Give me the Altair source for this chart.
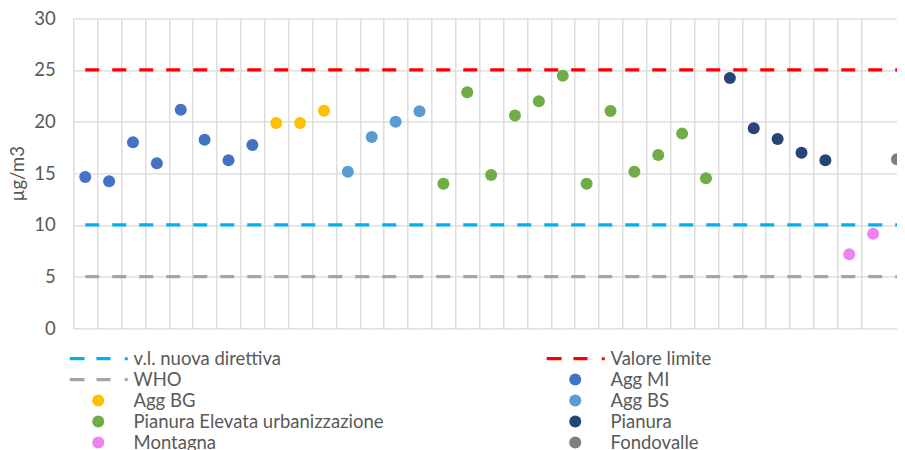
import altair as alt
import pandas as pd

# ---------------- data ----------------
categories = list(range(1, 36))
values = [14.64, 14.22, 18.0, 15.97, 21.16, 18.25, 16.26, 17.74,
          19.87, 19.87, 21.06,
          15.16, 18.51, 20.0, 21.0,
          14.0, 22.84, 14.84, 20.6, 21.97, 24.45, 14.0, 21.03, 15.16, 16.77, 18.84, 14.52,
          24.22, 19.35, 18.32, 17.0, 16.26,
          7.16, 9.16,
          16.35]
groups = (["Agg MI"] * 8 + ["Agg BG"] * 3 + ["Agg BS"] * 4
          + ["Pianura Elevata urbanizzazione"] * 12 + ["Pianura"] * 5
          + ["Montagna"] * 2 + ["Fondovalle"] * 1)

limit_names = ["v.l. nuova direttiva", "Valore limite", "WHO"]
limit_values = [10, 25, 5]

# legend entries, column by column (left column first)
legend_order = ["v.l. nuova direttiva", "WHO", "Agg BG", "Pianura Elevata urbanizzazione", "Montagna",
                "Valore limite", "Agg MI", "Agg BS", "Pianura", "Fondovalle"]
y_ticks = [0, 5, 10, 15, 20, 25, 30]

# ---------------- styles ----------------
series_colors = ["#00B0F0", "#A5A5A5", "#FFC000", "#70AD47", "#EE82EE",
                 "#FF0000", "#4472C4", "#5B9BD5", "#264478", "#7F7F7F"]
limit_colors = ["#00B0F0", "#FF0000", "#A5A5A5"]
LINE_SYM = ("M-4.75,-0.27H-2.28V0.27H-4.75Z "
            "M-0.3,-0.27H2.05V0.27H-0.3Z "
            "M4.42,-0.25H4.92V0.25H4.42Z")
series_shapes = [LINE_SYM, LINE_SYM, "circle", "circle", "circle",
                 LINE_SYM, "circle", "circle", "circle", "circle"]

FONT = "Lato"
TXT = "#595959"
FS = 18.5

pts = pd.DataFrame({"cat": categories, "val": values, "series": groups})
lim = pd.DataFrame({"name": limit_names, "val": limit_values,
                    "x1": [categories[0]] * 3, "x2": [categories[-1]] * 3})

grid_vals = [c - 0.5 for c in categories[:-1]]

legend = alt.Legend(
    title=None, orient="none", legendX=15.7, legendY=331, columns=2,
    columnPadding=162, rowPadding=2, symbolSize=144, symbolStrokeWidth=0,
    labelOffset=26, labelFont=FONT, labelFontSize=FS, labelColor=TXT,
    labelLimit=500, padding=0,
)

x_scale = alt.Scale(domain=[0.5, 35.0], nice=False, zero=False)
y_scale = alt.Scale(domain=[0, 30], nice=False)

x_axis = alt.Axis(values=grid_vals, tickCount=60, labels=False, ticks=False,
                  domain=False, grid=True, title=None)
y_axis = alt.Axis(values=y_ticks, ticks=False, domain=False, grid=True,
                  labelPadding=18, labelFont=FONT, labelFontSize=FS, labelColor=TXT,
                  title="µg/m3", titleFont=FONT, titleFontSize=FS,
                  titleFontWeight="normal", titleColor=TXT,
                  titleX=-55.5, titleY=155, titleBaseline="middle", titleAlign="center")

rules = alt.Chart(lim).mark_rule(strokeDash=[14, 13], strokeWidth=3.3, clip=True).encode(
    x=alt.X("x1:Q", scale=x_scale, axis=x_axis),
    x2="x2:Q",
    y=alt.Y("val:Q", scale=y_scale, axis=y_axis),
    stroke=alt.Stroke("name:N", scale=alt.Scale(domain=limit_names, range=limit_colors), legend=None),
)

points = alt.Chart(pts).mark_point(filled=True, opacity=1, size=144, clip=True).encode(
    x=alt.X("cat:Q", scale=x_scale, axis=x_axis),
    y=alt.Y("val:Q", scale=y_scale, axis=y_axis),
    color=alt.Color("series:N", scale=alt.Scale(domain=legend_order, range=series_colors), legend=legend),
    shape=alt.Shape("series:N", scale=alt.Scale(domain=legend_order, range=series_shapes), legend=legend),
)

chart = alt.layer(rules, points).properties(
    width=823.7, height=310,
    autosize=alt.AutoSizeParams(type="none"),
    padding={"left": 65.3, "top": 10.3, "right": 0, "bottom": 121.7},
).configure_view(stroke=None).configure_axis(
    gridColor="#D9D9D9", gridWidth=1.3
)

chart.save("out.html", embed_options={"renderer": "svg", "actions": False})
